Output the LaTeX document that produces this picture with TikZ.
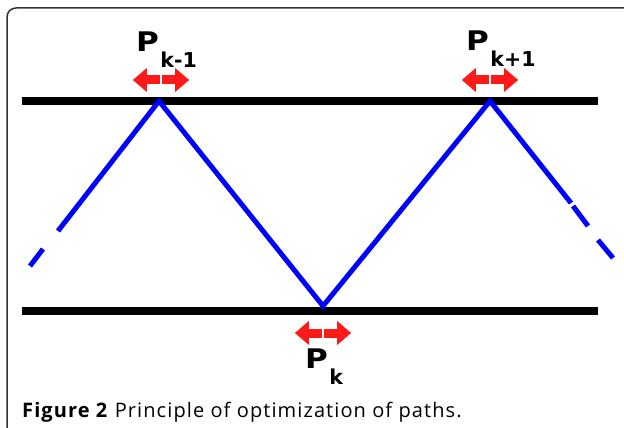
\documentclass[tikz,border=0pt]{standalone}
\usepackage{fontspec}
\setmainfont{Open Sans}
\newfontfamily\labfont{DejaVu Sans}
\usetikzlibrary{arrows.meta}
\definecolor{frame}{HTML}{333333}
\definecolor{pathblue}{HTML}{0000FF}
\definecolor{movered}{HTML}{FF1A1A}
\tikzset{
  rail/.style={line width=8pt, black},
  pathline/.style={line width=5pt, pathblue},
  halfarrow/.style={line width=9pt, movered, -{Triangle[width=23pt,length=14pt]}},
  plabel/.style={inner sep=0pt, anchor=base west, font=\labfont\bfseries},
}
\newcommand{\Plab}[1]{{\fontsize{27}{30}\selectfont\scalebox{1.15}[1]{P}}\kern1.5pt{\fontsize{20.5}{22}\selectfont\raisebox{-16pt}{#1}}}
\begin{document}
\begin{tikzpicture}[x=1pt,y=-1pt]
\useasboundingbox (0,0) rectangle (624,428);
% frame
\draw[frame, line width=1.5pt, rounded corners=9pt] (7,430) -- (7,8) -- (626,8);
% rails
\coordinate (tl) at (22,101);
\coordinate (tr) at (598,101);
\coordinate (bl) at (22,311);
\coordinate (br) at (598,311);
\draw[rail] (tl) -- (tr);
\draw[rail] (bl) -- (br);
% path points
\coordinate (pkm) at (159,101);
\coordinate (pk) at (323,306);
\coordinate (pkp) at (490,101);
\coordinate (l1) at (58,231);
\coordinate (l2) at (43,249);
\coordinate (l3) at (30,266);
\coordinate (r0) at (571,203);
\coordinate (r1) at (573,206);
\coordinate (r2) at (588,226);
\coordinate (r3) at (598,240);
\coordinate (r4) at (613,258);
\draw[pathline] (l1) -- (pkm) -- (pk) -- (pkp) -- (r0);
\draw[pathline] (r1) -- (r2);
\draw[pathline] (l2) -- (l3);
\draw[pathline] (r3) -- (r4);
% red move arrows
\coordinate (akm) at (161,80);
\coordinate (akp) at (490,80);
\coordinate (ak) at (323,333);
\foreach \c in {akm,akp,ak}{
  \draw[halfarrow] ([xshift=-1.2pt]\c) -- ++(-27,0);
  \draw[halfarrow] ([xshift=1.2pt]\c) -- ++(27,0);
}
% labels
\node[plabel] (lkm) at (136,52) {\Plab{k-1}};
\node[plabel] (lkp) at (466,51) {\Plab{k+1}};
\node[plabel] (lk) at (305,368) {\Plab{k}};
% caption
\node[inner sep=0pt, anchor=base west, font=\fontsize{20}{24}\selectfont\addfontfeature{LetterSpace=5.5}] (cap) at (22,417) {\textbf{Figure 2} Principle of optimization of paths.};
\end{tikzpicture}
\end{document}
